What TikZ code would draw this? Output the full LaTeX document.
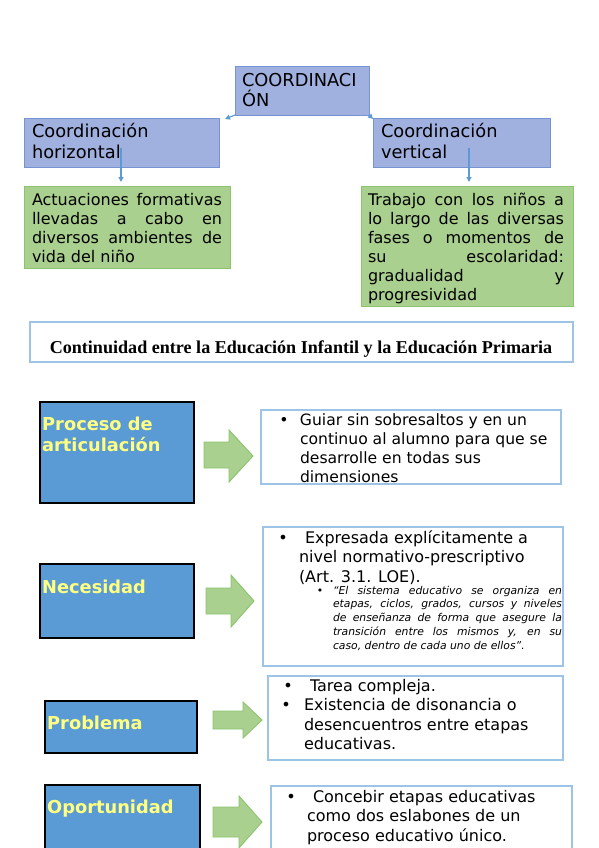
\documentclass[tikz,border=0pt]{standalone}
\usepackage{fontspec}
\setmainfont{DejaVu Sans}[ItalicFont={DejaVu Sans Oblique},BoldFont={DejaVu Sans Bold}]
\newfontfamily\titlefont{Liberation Serif}
\usetikzlibrary{arrows.meta}
\definecolor{lav}{RGB}{160,177,224}
\definecolor{lavline}{RGB}{118,148,212}
\definecolor{grn}{RGB}{169,208,142}
\definecolor{grnline}{RGB}{140,196,110}
\definecolor{bluebox}{RGB}{91,155,213}
\definecolor{yel}{RGB}{255,255,128}
\definecolor{lblue}{RGB}{157,195,230}
\definecolor{arrowblue}{RGB}{91,155,213}
\newcommand\jl[1]{\makebox[\linewidth][s]{#1}}
\newcommand\bul[1]{\leavevmode\llap{•\hspace{#1pt}}}
\newcommand\mybox[6]{\node[#2, anchor=north west, inner sep=0pt, outer sep=0pt,
  minimum width={(#5)*1pt-(#3)*1pt}, minimum height={(#6)*1pt-(#4)*1pt}] (#1) at (#3,#4) {};}
\tikzset{
  lavbox/.style={fill=lav, draw=lavline, line width=0.9pt},
  grnbox/.style={fill=grn, draw=grnline, line width=0.9pt},
  bluesq/.style={fill=bluebox, draw=black, line width=2.2pt},
  txtbox/.style={fill=white, draw=lblue, line width=1.3pt},
  blockarrow/.style={fill=grn, draw=grnline, line width=0.9pt, line join=miter},
  tiparrow/.style={draw=arrowblue, line width=1.2pt, -{Triangle[length=5pt,width=5pt]}},
  txt/.style={anchor=base west, inner sep=0pt, outer sep=0pt},
  lbl/.style={anchor=base west, inner sep=0pt, text=yel, font=\bfseries\fontsize{17.8}{21}\selectfont}
}
\begin{document}
\begin{tikzpicture}[x=1pt,y=-1pt]
\clip (0,0) rectangle (599,848);
\useasboundingbox (0,0) rectangle (599,848);
\fill[white] (0,0) rectangle (599,848);

% top hierarchy
\mybox{c0}{lavbox}{235}{66}{369}{115}
\mybox{ch}{lavbox}{24}{118}{219}{167}
\mybox{cv}{lavbox}{373}{118}{550}{167}
\mybox{gh}{grnbox}{24}{186}{230}{268}
\mybox{gv}{grnbox}{361}{186}{573}{306}

\node[txt] (c0t) at (242,87) {\parbox[t]{125pt}{\fontsize{17.8}{20}\selectfont COORDINACI\\ÓN}};
\node[txt] (cht) at (32,137) {\parbox[t]{185pt}{\fontsize{17.8}{21.5}\selectfont Coordinación\\horizontal}};
\node[txt] (cvt) at (381,137) {\parbox[t]{165pt}{\fontsize{17.8}{21.5}\selectfont Coordinación\\vertical}};
\node[txt] (ght) at (32,205) {\parbox[t]{190pt}{\fontsize{16}{19}\selectfont
\jl{Actuaciones formativas}\\\jl{llevadas a cabo en}\\\jl{diversos ambientes de}\\vida del niño}};
\node[txt] (gvt) at (368,205) {\parbox[t]{196pt}{\fontsize{16}{19}\selectfont
\jl{Trabajo con los niños a}\\\jl{lo largo de las diversas}\\\jl{fases o momentos de}\\\jl{su escolaridad:}\\\jl{gradualidad y}\\progresividad}};

\coordinate (la) at (225,119);
\coordinate (ra) at (373,119);
\draw[tiparrow] (c0.south west) -- (la);
\draw[tiparrow] (c0.south east) -- (ra);
\coordinate (hs) at (121,148);
\coordinate (he) at (121,182);
\coordinate (vs) at (469,148);
\coordinate (ve) at (469,182);
\draw[tiparrow] (hs) -- (he);
\draw[tiparrow] (vs) -- (ve);

% title
\mybox{title}{txtbox}{30}{322}{573}{362}
\node[anchor=base, inner sep=0pt] (titlet) at (301,353) {\titlefont\bfseries\fontsize{18.1}{20}\selectfont Continuidad entre la Educación Infantil y la Educación Primaria};

% row 1
\mybox{b1}{bluesq}{40}{402}{194}{503}
\node[lbl] (b1t) at (42,430) {\parbox[t]{150pt}{Proceso de\\articulación}};
\draw[blockarrow] (204,442) -- (229,442) -- (229,430) -- (253,456) -- (229,482) -- (229,468) -- (204,468) -- cycle;
\mybox{t1}{txtbox}{261}{410}{561}{484}
\node[txt] (t1t) at (300,425) {\parbox[t]{258pt}{\fontsize{15.6}{19.3}\selectfont
\bul{11.4}Guiar sin sobresaltos y en un\\continuo al alumno para que se\\desarrolle en todas sus\\dimensiones}};

% row 2
\mybox{b2}{bluesq}{40}{564}{194}{638}
\node[lbl] (b2t) at (42,593) {Necesidad};
\draw[blockarrow] (206,588) -- (231,588) -- (231,575) -- (254,601) -- (231,627) -- (231,614) -- (206,614) -- cycle;
\mybox{t2}{txtbox}{263}{527}{563}{666}
\node[txt] (t2t) at (299,543) {\parbox[t]{262pt}{\fontsize{16}{19.5}\selectfont
\bul{11.3}\hspace{6pt}Expresada explícitamente a\\nivel normativo-prescriptivo\\(Art. 3.1. LOE).}};
\node[txt] (t2q) at (333,594) {\parbox[t]{229pt}{\fontsize{10.8}{13.8}\selectfont\itshape
\leavevmode\llap{\upshape•\hspace{9.8pt}}\jl{“El sistema educativo se organiza en}\\\jl{etapas, ciclos, grados, cursos y niveles}\\\jl{de enseñanza de forma que asegure la}\\\jl{transición entre los mismos y, en su}\\caso, dentro de cada uno de ellos”.}};

% row 3
\mybox{b3}{bluesq}{45}{701}{197}{753}
\node[lbl] (b3t) at (47,729) {Problema};
\draw[blockarrow] (213,711) -- (243,711) -- (243,702) -- (262,720) -- (243,738) -- (243,729) -- (213,729) -- cycle;
\mybox{t3}{txtbox}{268}{676}{563}{760}
\node[txt] (t3t) at (304,691) {\parbox[t]{256pt}{\fontsize{16}{19.6}\selectfont
\bul{11.3}\hspace{6pt}Tarea compleja.\\\bul{13.3}Existencia de disonancia o\\desencuentros entre etapas\\educativas.}};

% row 4
\mybox{b4}{bluesq}{45}{785}{200}{870}
\node[lbl] (b4t) at (47,813) {Oportunidad};
\draw[blockarrow] (213,807) -- (239,807) -- (239,796) -- (262,822) -- (239,848) -- (239,837) -- (213,837) -- cycle;
\mybox{t4}{txtbox}{271}{786}{572}{870}
\node[txt] (t4t) at (307,802) {\parbox[t]{262pt}{\fontsize{16}{19.8}\selectfont
\bul{11.3}\hspace{6pt}Concebir etapas educativas\\como dos eslabones de un\\proceso educativo único.}};
\end{tikzpicture}
\end{document}
